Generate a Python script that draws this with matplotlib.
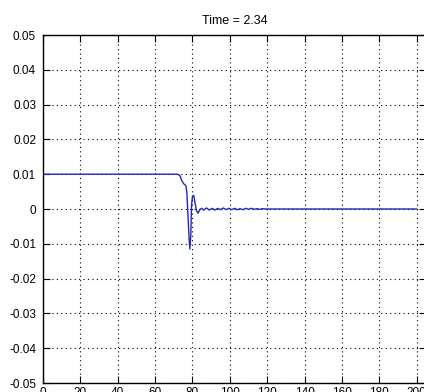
import matplotlib
matplotlib.use("Agg")
import matplotlib.pyplot as plt
from matplotlib import font_manager

# Response of the signal at the given time step
t = [0, 20, 40, 60, 70, 72.0, 73.3, 74.2, 75.4, 76.5, 77.0, 77.7, 78.2, 78.6, 79.1,
     79.5, 80.0, 80.7, 81.3, 82.2, 83.0, 83.9, 84.8, 86.0, 87.5, 89.0, 90.5, 92.0,
     93.5, 95.0, 96.5, 98.0, 99.5, 101.0, 102.5, 104.0, 105.5, 107.0, 108.5, 110.0,
     111.5, 113.0, 114.5, 116.0, 117.5, 119.0, 120.5, 122.0, 140, 160, 180, 200]
y = [0.0100, 0.0100, 0.0100, 0.0100, 0.0100, 0.0100, 0.0096, 0.0082, 0.0072, 0.0067,
     0.0048, -0.0029, -0.0086, -0.0115, -0.0077, 0.0010, 0.0037, 0.0039, 0.0019,
     -0.0005, -0.0012, -0.0002, 0.0002, -0.0003, 0.0003, -0.0003, 0.0002, -0.0003,
     0.0002, -0.0002, 0.0003, -0.0002, 0.0002, -0.0002, 0.0002, -0.0002, 0.0001,
     -0.0002, 0.0002, -0.0001, 0.0002, -0.0001, 0.0001, -0.0001, 0.0001, 0.0000,
     0.0000, 0.0000, 0.0000, 0.0000, 0.0000, 0.0000]

xticks = [0, 20, 40, 60, 80, 100, 120, 140, 160, 180, 200]
yticks = [-0.05, -0.04, -0.03, -0.02, -0.01, 0, 0.01, 0.02, 0.03, 0.04, 0.05]
ytick_labels = ["-0.05", "-0.04", "-0.03", "-0.02", "-0.01", "0",
                "0.01", "0.02", "0.03", "0.04", "0.05"]
title = "Time = 2.34"

names = {f.name for f in font_manager.fontManager.ttflist}
family = ["Liberation Sans Narrow"] if "Liberation Sans Narrow" in names else ["Liberation Sans"]
plt.rcParams["font.family"] = family + ["DejaVu Sans"]

fig = plt.figure(figsize=(4.24, 3.92), dpi=100)
fig.patch.set_facecolor("white")
ax = fig.add_axes([43 / 424, 9 / 392, 383 / 424, 348 / 392])

ax.plot(t, y, color="#2626b4", linewidth=1.0)

ax.set_xlim(0, 205)
ax.set_ylim(-0.05, 0.05)
ax.set_xticks(xticks)
ax.set_xticklabels([str(v) for v in xticks])
ax.set_yticks(yticks)
ax.set_yticklabels(ytick_labels)

ax.grid(True, color="black", linestyle=(0, (1, 3)), linewidth=0.8)
ax.tick_params(direction="in", length=5, width=0.8, top=True, right=True,
               labelsize=8.5, pad=3)
ax.tick_params(axis="y", pad=5)
for s in ax.spines.values():
    s.set_linewidth(1.0)

ax.set_title(title, fontsize=9, pad=8)

fig.savefig("out.png", dpi=100, facecolor="white")
